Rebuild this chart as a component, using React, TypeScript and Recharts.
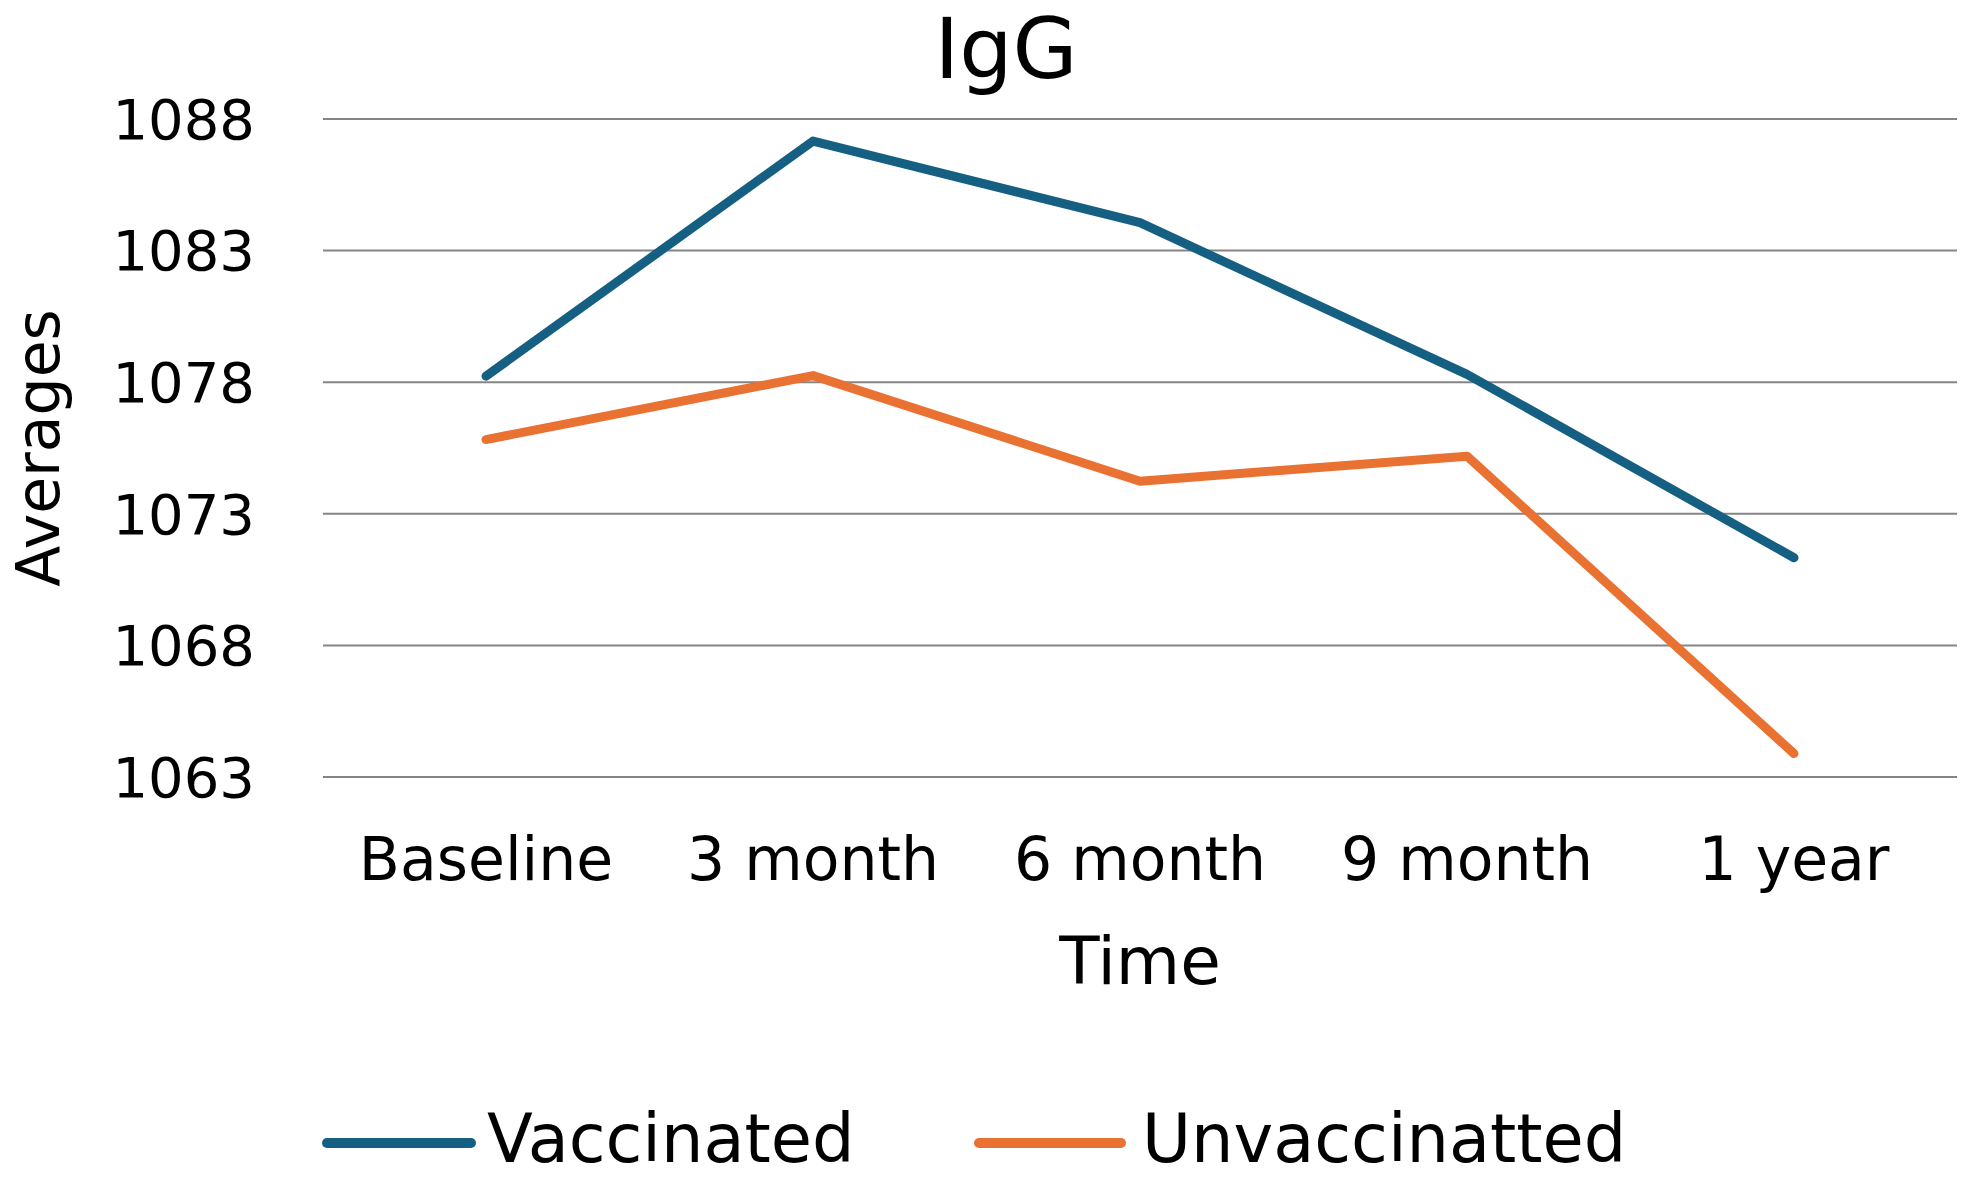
import React from 'react';
import { LineChart, Line, XAxis, YAxis, CartesianGrid, Legend } from 'recharts';

const categories = ['Baseline', '3 month', '6 month', '9 month', '1 year'];
const vaccinated = [1078.23, 1087.16, 1084.06, 1078.3, 1071.33];
const unvaccinated = [1075.82, 1078.25, 1074.24, 1075.19, 1063.89];
const yTicks = [1063, 1068, 1073, 1078, 1083, 1088];

const data = categories.map((c, i) => ({ time: c, Vaccinated: vaccinated[i], Unvaccinatted: unvaccinated[i] }));

const FONT = '"DejaVu Sans", "Liberation Sans", Arial, sans-serif';
const BLUE = '#156082';
const ORANGE = '#E97132';

const renderLegend = () => (
  <svg width={1965} height={84} style={{ display: 'block' }}>
    <line x1={327} x2={471} y1={48} y2={48} stroke={BLUE} strokeWidth={10} strokeLinecap="round" />
    <text x={487} y={67} fontSize={67} fontFamily={FONT} fill="#000">Vaccinated</text>
    <line x1={979} x2={1121} y1={48} y2={48} stroke={ORANGE} strokeWidth={10} strokeLinecap="round" />
    <text x={1142} y={67} fontSize={67} fontFamily={FONT} fill="#000">Unvaccinatted</text>
  </svg>
);

export default function App() {
  return (
    <div style={{ position: 'absolute', left: 0, top: 0, width: 1965, height: 1179, background: '#fff', overflow: 'hidden' }}>
      <LineChart width={1965} height={1179} data={data} margin={{ top: 119, right: 8, bottom: 182, left: 0 }}>
        <CartesianGrid horizontal vertical={false} stroke="#858585" strokeWidth={2} />
        <XAxis
          dataKey="time"
          interval={0}
          padding={{ left: 163, right: 163 }}
          tickLine={false}
          axisLine={false}
          tickSize={0}
          tickMargin={60}
          height={220}
          tick={{ fontSize: 60, fill: '#000', fontFamily: FONT }}
          label={{
            content: (props: any) => {
              const vb = props.viewBox || { x: 323, y: 777, width: 1632 };
              return (
                <text x={vb.x + vb.width / 2} y={vb.y + 207} textAnchor="middle" fontSize={66} fontFamily={FONT} fill="#000">Time</text>
              );
            },
          }}
        />
        <YAxis
          domain={[1063, 1088]}
          ticks={yTicks}
          type="number"
          allowDataOverflow
          tickLine={false}
          axisLine={false}
          tickSize={0}
          tickMargin={68}
          width={323}
          tick={{ fontSize: 56, fill: '#000', fontFamily: FONT }}
          label={{
            content: (props: any) => {
              const vb = props.viewBox || { x: 0, y: 119, width: 323, height: 658 };
              const cx = vb.x + 59;
              const cy = vb.y + vb.height / 2;
              return (
                <text x={cx} y={cy} transform={`rotate(-90 ${cx} ${cy})`} textAnchor="middle" fontSize={60} fontFamily={FONT} fill="#000">Averages</text>
              );
            },
          }}
        />
        <Legend
          verticalAlign="middle"
          align="center"
          layout="horizontal"
          content={renderLegend}
          wrapperStyle={{ position: 'absolute', top: 1095, left: 0, width: 1965, height: 84 }}
        />
        <Line type="linear" dataKey="Vaccinated" stroke={BLUE} strokeWidth={9} dot={false} activeDot={false} strokeLinejoin="round" strokeLinecap="round" isAnimationActive={false} />
        <Line type="linear" dataKey="Unvaccinatted" stroke={ORANGE} strokeWidth={9} dot={false} activeDot={false} strokeLinejoin="round" strokeLinecap="round" isAnimationActive={false} />
      </LineChart>
      <svg width={1965} height={110} style={{ position: 'absolute', left: 0, top: 0, pointerEvents: 'none' }}>
        <text x={1006} y={78} textAnchor="middle" fontSize={84} fontFamily={FONT} fill="#000">IgG</text>
      </svg>
    </div>
  );
}
